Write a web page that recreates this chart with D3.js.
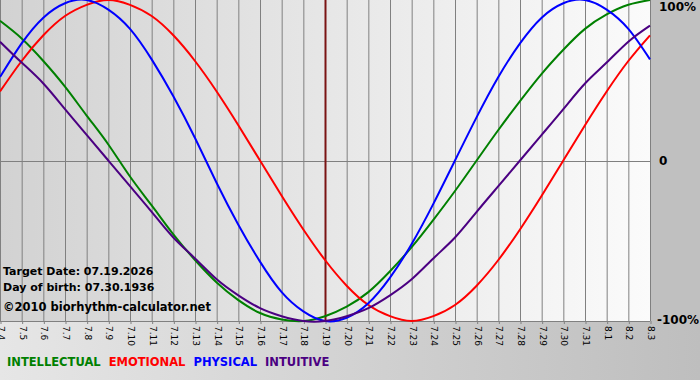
<!DOCTYPE html>
<html>
<head>
<meta charset="utf-8">
<script src="https://cdn.jsdelivr.net/npm/d3@7"></script>
<style>
  body { margin: 0; background: #c0c0c0; }
  svg { display: block; font-family: "DejaVu Sans", Verdana, sans-serif; }
</style>
</head>
<body>
<svg id="chart" width="700" height="380"></svg>
<script>
// day labels (month.day)
const days = ['7.4', '7.5', '7.6', '7.7', '7.8', '7.9', '7.10', '7.11', '7.12', '7.13', '7.14',
  '7.15', '7.16', '7.17', '7.18', '7.19', '7.20', '7.21', '7.22', '7.23', '7.24', '7.25',
  '7.26', '7.27', '7.28', '7.29', '7.30', '7.31', '8.1', '8.2', '8.3'];

// cycle values, -1..1, read per day
const intellectual = [0.87, 0.76, 0.62, 0.46, 0.28, 0.10, -0.10, -0.28, -0.46, -0.62, -0.76,
  -0.87, -0.95, -0.99, -1.00, -0.97, -0.91, -0.82, -0.69, -0.54, -0.37, -0.19, 0, 0.19, 0.37,
  0.54, 0.69, 0.82, 0.91, 0.97, 1.00];
const emotional = [0.43, 0.62, 0.78, 0.90, 0.97, 1.00, 0.97, 0.90, 0.78, 0.62, 0.43, 0.22, 0,
  -0.22, -0.43, -0.62, -0.78, -0.90, -0.97, -1.00, -0.97, -0.90, -0.78, -0.62, -0.43, -0.22, 0,
  0.22, 0.43, 0.62, 0.78];
const physical = [0.52, 0.73, 0.89, 0.98, 1.00, 0.94, 0.82, 0.63, 0.40, 0.14, -0.14, -0.40,
  -0.63, -0.82, -0.94, -1.00, -0.98, -0.89, -0.73, -0.52, -0.27, 0, 0.27, 0.52, 0.73, 0.89,
  0.98, 1.00, 0.94, 0.82, 0.63];
const intuitive = [0.74, 0.61, 0.48, 0.32, 0.16, 0, -0.16, -0.32, -0.48, -0.61, -0.74, -0.84,
  -0.92, -0.97, -1.00, -1.00, -0.97, -0.92, -0.84, -0.74, -0.61, -0.48, -0.32, -0.16, 0, 0.16,
  0.32, 0.48, 0.61, 0.74, 0.84];

const seriesNames = ['INTELLECTUAL', 'EMOTIONAL', 'PHYSICAL', 'INTUITIVE'];
const seriesColors = ['#008000', '#ff0000', '#0000ff', '#4b0082'];
const seriesValues = [intellectual, emotional, physical, intuitive];

const yTicks = [1, 0, -1];
const yTickLabels = ['100%', '0', '-100%'];
const targetDay = '7.19';
const infoLines = ['Target Date: 07.19.2026', 'Day of birth: 07.30.1936'];
const copyright = '\u00a92010 biorhythm-calculator.net';

const W = 700, H = 380;
const plot = { left: 0, top: 0, width: 650, height: 321 };

const svg = d3.select('#chart');
const defs = svg.append('defs');

// page background, lighter on the left
const bgGrad = defs.append('linearGradient').attr('id', 'bg').attr('x1', 0).attr('x2', 1).attr('y1', 0).attr('y2', 0);
bgGrad.append('stop').attr('offset', '0%').attr('stop-color', '#e6e6e6');
bgGrad.append('stop').attr('offset', '100%').attr('stop-color', '#bebebe');

// plot background, grey on the left to near white on the right
const plotGrad = defs.append('linearGradient').attr('id', 'plotbg').attr('x1', 0).attr('x2', 1).attr('y1', 0).attr('y2', 0);
plotGrad.append('stop').attr('offset', '0%').attr('stop-color', '#d2d2d2');
plotGrad.append('stop').attr('offset', '100%').attr('stop-color', '#fbfbfb');

svg.append('rect').attr('width', W).attr('height', H).attr('fill', 'url(#bg)');
svg.append('rect').attr('x', plot.left + plot.width).attr('width', W - plot.width).attr('height', plot.height + 3).attr('fill', '#c0c0c0');

const g = svg.append('g').attr('transform', `translate(${plot.left},${plot.top})`);

g.append('rect').attr('width', plot.width).attr('height', plot.height).attr('fill', 'url(#plotbg)');

const x = d3.scalePoint().domain(days).range([0, plot.width]);
const y = d3.scaleLinear().domain([-1, 1]).range([plot.height, 0]);

// vertical day gridlines
g.append('g').selectAll('line')
  .data(days)
  .join('line')
  .attr('x1', d => x(d) + 0.5).attr('x2', d => x(d) + 0.5)
  .attr('y1', 0).attr('y2', plot.height)
  .attr('stroke', '#808080').attr('stroke-width', 1);

// zero line and bottom border
g.append('g').selectAll('line')
  .data([0, -1])
  .join('line')
  .attr('x1', 0).attr('x2', plot.width)
  .attr('y1', d => Math.round(y(d)) + 0.5).attr('y2', d => Math.round(y(d)) + 0.5)
  .attr('stroke', '#808080').attr('stroke-width', 1);

// x axis with rotated labels
const xAxisG = g.append('g')
  .attr('transform', `translate(0.5,${plot.height})`)
  .call(d3.axisBottom(x).tickSize(3).tickSizeOuter(0));
xAxisG.select('.domain').remove();
xAxisG.selectAll('.tick line').attr('stroke', '#808080');
xAxisG.selectAll('.tick text')
  .attr('transform', 'rotate(90)')
  .attr('x', 5).attr('y', 0).attr('dy', '0.35em')
  .attr('text-anchor', 'start')
  .attr('fill', '#000')
  .style('font-size', '9px')
  .style('font-family', '"DejaVu Sans", Verdana, sans-serif');

// marker for the target date
g.append('line')
  .attr('x1', x(targetDay) + 0.5).attr('x2', x(targetDay) + 0.5)
  .attr('y1', 0).attr('y2', plot.height)
  .attr('stroke', '#7a1414').attr('stroke-width', 2);

// info text
g.append('g').selectAll('text')
  .data(infoLines)
  .join('text')
  .attr('x', 3).attr('y', (d, i) => 275 + i * 16)
  .style('font-size', '11px').style('font-weight', 'bold')
  .attr('fill', '#000')
  .text(d => d);
g.append('text')
  .attr('x', 3).attr('y', 311)
  .style('font-size', '11.5px').style('font-weight', 'bold')
  .attr('fill', '#000')
  .text(copyright);

// curves
const line = d3.line()
  .x((d, i) => x(days[i]))
  .y(d => y(d))
  .curve(d3.curveNatural);

g.append('g').selectAll('path')
  .data(seriesValues)
  .join('path')
  .attr('d', d => line(d))
  .attr('fill', 'none')
  .attr('stroke', (d, i) => seriesColors[i])
  .attr('stroke-width', 2);

// y labels on the right
svg.append('g').selectAll('text')
  .data(yTicks)
  .join('text')
  .attr('x', d => d < 0 ? 657 : 659)
  .attr('y', d => Math.min(Math.max(y(d), 7), 320))
  .attr('dy', '0.35em')
  .style('font-size', '12px').style('font-weight', 'bold')
  .attr('fill', '#000')
  .text((d, i) => yTickLabels[i]);

// legend
let lx = 7;
const legend = svg.append('g');
seriesNames.forEach((name, i) => {
  const t = legend.append('text')
    .attr('x', lx).attr('y', 366)
    .style('font-size', '11.5px').style('font-weight', 'bold')
    .attr('fill', seriesColors[i])
    .text(name);
  lx += t.node().getComputedTextLength() + 8;
});
</script>
</body>
</html>
